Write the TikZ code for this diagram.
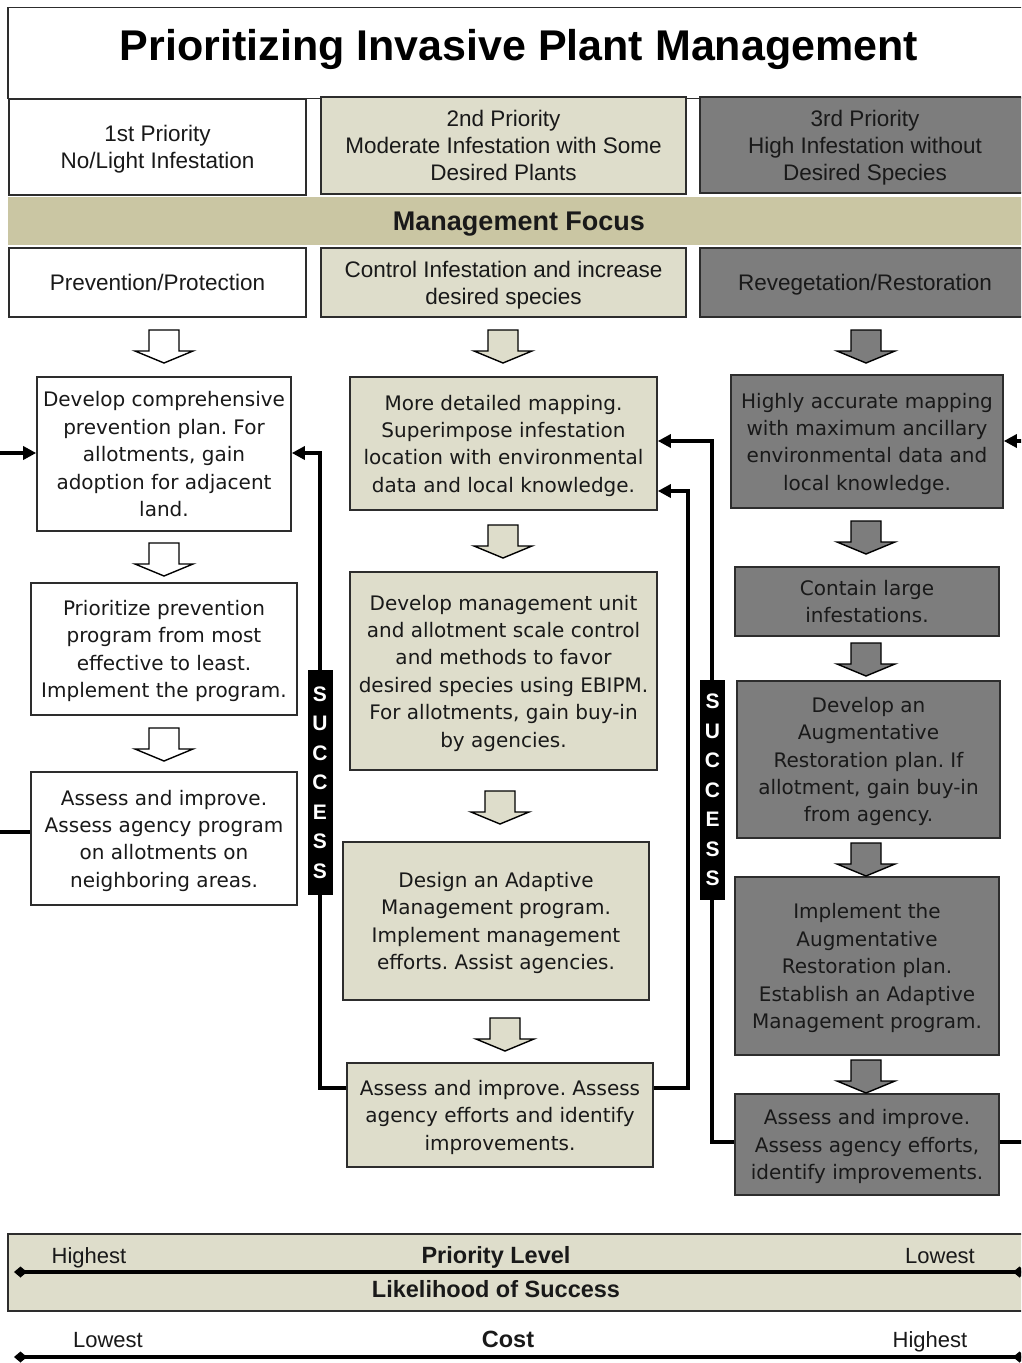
\documentclass[tikz,border=0pt]{standalone}
\usepackage{fontspec}
\setmainfont{DejaVu Sans}
\newfontfamily\hdr{Liberation Sans}
\usetikzlibrary{arrows.meta,calc}
\frenchspacing
\definecolor{bd}{RGB}{45,45,45}
\definecolor{tx}{RGB}{25,25,25}
\definecolor{beige}{RGB}{222,221,203}
\definecolor{khaki}{RGB}{202,198,163}
\definecolor{dgray}{RGB}{125,125,125}
\tikzset{
  bx/.style={draw=bd, line width=1.6pt, align=center, inner sep=0pt, text=tx, text depth=0pt,
    font=\fontsize{20}{27.4}\selectfont},
  wbox/.style={bx, fill=white},
  bbox/.style={bx, fill=beige},
  gbox/.style={bx, fill=dgray},
  hd/.style={font=\hdr\fontsize{22.5}{27}\selectfont},
  conn/.style={line width=4pt, line join=miter, -{Triangle[length=13pt,width=13pt]}},
  succ/.style={fill=black, text=white, font=\hdr\bfseries\fontsize{21}{29.5}\selectfont,
    align=center, minimum width=25pt, inner sep=0pt},
  blk/.style={draw=black, line width=1.4pt, line join=miter},
  axisline/.style={line width=4.5pt, {Diamond[length=13pt,width=11pt]}-{Diamond[length=13pt,width=11pt]}},
  lbl/.style={text=tx, font=\hdr\fontsize{22}{26}\selectfont, inner sep=0pt, anchor=base},
  blbl/.style={text=tx, font=\hdr\bfseries\fontsize{23.5}{26}\selectfont, inner sep=0pt, anchor=base},
}
\newcommand\barr[3]{\draw[blk, fill=#1] (#2-15,#3) -- (#2+15,#3) -- (#2+15,#3+21) -- (#2+29,#3+21) -- (#2,#3+33) -- (#2-29,#3+21) -- (#2-15,#3+21) -- cycle;}
\begin{document}
\begin{tikzpicture}[x=1pt,y=-1pt]
\useasboundingbox (0,0) rectangle (1021,1363);
\clip (0,0) rectangle (1021,1363);
\fill[white] (0,0) rectangle (1021,1363);

% title
\node[draw=bd, line width=1.6pt, minimum width=1022pt, minimum height=91pt, inner sep=0pt] (title) at (519,53) {};
\node[font=\hdr\bfseries\fontsize{43}{48}\selectfont, text=black, inner sep=0pt, anchor=base] (titletext) at (519,60) {Prioritizing Invasive Plant Management};

% header row
\node[wbox, hd, minimum width=297pt, minimum height=96pt] (H1) at (157.5,147) {1st Priority\\No/Light Infestation};
\node[bbox, hd, minimum width=365pt, minimum height=97pt] (H2) at (503.5,145.5) {2nd Priority\\Moderate Infestation with Some\\Desired Plants};
\node[gbox, hd, minimum width=330pt, minimum height=96pt] (H3) at (865,145) {3rd Priority\\High Infestation without\\Desired Species};

\node[fill=khaki, minimum width=1022pt, minimum height=48pt, inner sep=0pt, text depth=0pt,
  font=\hdr\bfseries\fontsize{27}{30}\selectfont, text=tx] (focus) at (519,221) {Management Focus};

\node[wbox, hd, minimum width=297pt, minimum height=69pt] (F1) at (157.5,282.5) {Prevention/Protection};
\node[bbox, hd, minimum width=365pt, minimum height=69pt] (F2) at (503.5,282.5) {Control Infestation and increase\\desired species};
\node[gbox, hd, minimum width=330pt, minimum height=69pt] (F3) at (865,282.5) {Revegetation/Restoration};

% left column
\node[wbox, minimum width=254pt, minimum height=154pt] (L1) at (164,454) {Develop comprehensive\\prevention plan. For\\allotments, gain\\adoption for adjacent\\land.};
\node[wbox, minimum width=266pt, minimum height=132pt] (L2) at (164,649) {Prioritize prevention\\program from most\\effective to least.\\Implement the program.};
\node[wbox, minimum width=266pt, minimum height=133pt] (L3) at (164,838.5) {Assess and improve.\\Assess agency program\\on allotments on\\neighboring areas.};

% middle column
\node[bbox, minimum width=307pt, minimum height=133pt] (M1) at (503.5,443.5) {More detailed mapping.\\Superimpose infestation\\location with environmental\\data and local knowledge.};
\node[bbox, minimum width=307pt, minimum height=198pt] (M2) at (503.5,671) {Develop management unit\\and allotment scale control\\and methods to favor\\desired species using EBIPM.\\For allotments, gain buy-in\\by agencies.};
\node[bbox, minimum width=306pt, minimum height=158pt] (M3) at (496,921) {Design an Adaptive\\Management program.\\Implement management\\efforts. Assist agencies.};
\node[bbox, minimum width=306pt, minimum height=104pt] (M4) at (500,1115) {Assess and improve. Assess\\agency efforts and identify\\improvements.};

% right column
\node[gbox, minimum width=272pt, minimum height=133pt] (R1) at (867,441.5) {Highly accurate mapping\\with maximum ancillary\\environmental data and\\local knowledge.};
\node[gbox, minimum width=264pt, minimum height=69pt] (R2) at (867,601.5) {Contain large\\infestations.};
\node[gbox, minimum width=263pt, minimum height=157pt] (R3) at (868.5,759.5) {Develop an\\Augmentative\\Restoration plan. If\\allotment, gain buy-in\\from agency.};
\node[gbox, minimum width=264pt, minimum height=178pt] (R4) at (867,966) {Implement the\\Augmentative\\Restoration plan.\\Establish an Adaptive\\Management program.};
\node[gbox, minimum width=264pt, minimum height=101pt] (R5) at (867,1144.5) {Assess and improve.\\Assess agency efforts,\\identify improvements.};

% block arrows
\barr{white}{164}{330}
\barr{beige}{503}{330}
\barr{dgray}{866}{330}
\barr{white}{164}{543}
\barr{white}{164}{728}
\barr{beige}{503}{525}
\barr{beige}{500}{791}
\barr{beige}{505}{1018}
\barr{dgray}{866}{521}
\barr{dgray}{866}{643}
\barr{dgray}{866}{843}
\barr{dgray}{866}{1060}

% loop connectors
\coordinate (lx) at (-6,600);
\coordinate (s1x) at (320,700);
\coordinate (m2x) at (688,700);
\coordinate (s2x) at (712,700);
\coordinate (rx) at (1030,700);
\draw[conn] ($(L3.west)+(0,-6.5)$) -| (lx) |- ($(L1.west)+(0,-1)$);
\draw[conn] ($(M4.west)+(0,-27)$) -| (s1x) |- ($(L1.east)+(0,-1)$);
\draw[conn] ($(M4.east)+(0,-27)$) -| (m2x) |- ($(M1.east)+(0,47.5)$);
\draw[conn] ($(R5.west)+(0,-2.5)$) -| (s2x) |- ($(M1.east)+(0,-2.5)$);
\draw[conn] ($(R5.east)+(0,-2.5)$) -| (rx) |- ($(R1.east)+(0,-0.5)$);

\node[succ, minimum height=225pt] (succ1) at (320,782.5) {S\\U\\C\\C\\E\\S\\S};
\node[succ, minimum height=220pt] (succ2) at (712.5,790) {S\\U\\C\\C\\E\\S\\S};

% bottom scales
\node[draw=bd, line width=1.6pt, fill=beige, minimum width=1022pt, minimum height=77pt, inner sep=0pt] (band) at (519,1272.5) {};
\node[lbl] (hi1) at (89,1263) {Highest};
\node[blbl] (prio) at (496,1263) {Priority Level};
\node[lbl] (lo1) at (940,1263) {Lowest};
\node[blbl] (like) at (496,1297) {Likelihood of Success};
\coordinate (pl) at (14,1272);
\coordinate (pr) at (1026,1272);
\draw[axisline] (pl) -- (pr);

\node[lbl] (lo2) at (108,1347) {Lowest};
\node[blbl] (cost) at (508,1347) {Cost};
\node[lbl] (hi2) at (930,1347) {Highest};
\coordinate (cl) at (14,1357);
\coordinate (cr) at (1026,1357);
\draw[axisline] (cl) -- (cr);
\end{tikzpicture}
\end{document}
